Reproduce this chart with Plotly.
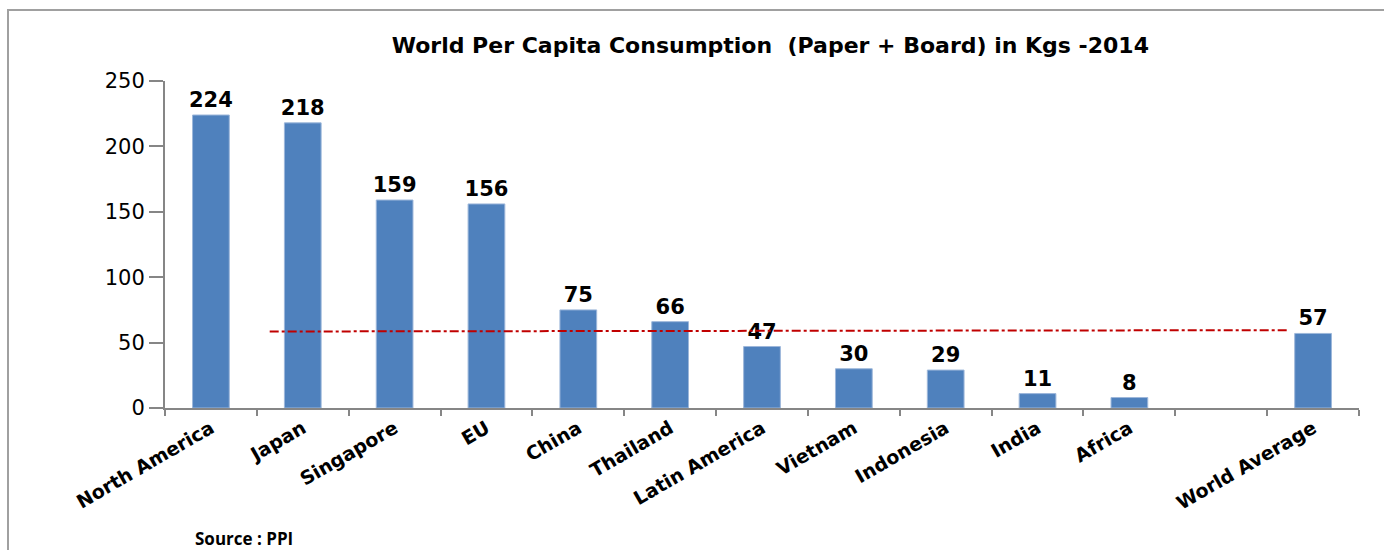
import plotly.graph_objects as go

categories = ["North America", "Japan", "Singapore", "EU", "China", "Thailand",
              "Latin America", "Vietnam", "Indonesia", "India", "Africa", " ", "World Average"]
values = [224, 218, 159, 156, 75, 66, 47, 30, 29, 11, 8, None, 57]
labels = ["224", "218", "159", "156", "75", "66", "47", "30", "29", "11", "8", "", "57"]

# reference (dash-dot) line: category index positions and values
ref_x = [0.64, 11.72]
ref_y = [58.5, 59.5]

y_ticks = [0, 50, 100, 150, 200, 250]

fig = go.Figure()
fig.add_trace(go.Bar(
    x=categories, y=values, text=labels, textposition="outside", constraintext="none",
    textfont=dict(family="DejaVu Sans", size=21, color="black", weight="bold"),
    marker=dict(color="#4F81BD", line=dict(color="#9DB7DA", width=1)),
    cliponaxis=False, showlegend=False,
))
fig.add_trace(go.Scatter(
    x=ref_x, y=ref_y, xaxis="x2", yaxis="y", mode="lines",
    line=dict(color="#C00000", width=2, dash="dashdot"), showlegend=False,
    hoverinfo="skip",
))

axis_col = "#868686"
fig.update_layout(
    width=1384, height=550,
    margin=dict(l=165, r=25, t=81, b=142, autoexpand=False),
    plot_bgcolor="white", paper_bgcolor="white",
    bargap=0.6,
    title=dict(text="World Per Capita Consumption  (Paper + Board) in Kgs -2014",
               font=dict(family="DejaVu Sans", size=22, color="black", weight="bold"),
               x=0.507, xref="paper", y=1 - 45 / 550, yref="container",
               xanchor="center", yanchor="middle"),
    xaxis=dict(type="category", categoryorder="array", categoryarray=categories,
               showline=True, linecolor=axis_col, linewidth=2,
               ticks="outside", tickson="boundaries", ticklen=6, tickcolor=axis_col, tickwidth=2,
               tickangle=-30, automargin=False,
               tickfont=dict(family="DejaVu Sans", size=19, color="black", weight="bold"),
               showgrid=False, zeroline=False),
    xaxis2=dict(overlaying="x", range=[-0.5, 12.5], visible=False),
    yaxis=dict(range=[0, 250], tickvals=y_ticks, showline=True, linecolor=axis_col, linewidth=2,
               ticks="outside", ticklen=14, tickcolor=axis_col, tickwidth=2,
               tickfont=dict(family="DejaVu Sans", size=21, color="black"),
               showgrid=False, zeroline=False, automargin=False),
    shapes=[dict(type="rect", xref="paper", yref="paper",
                 x0=(8 - 165) / 1194, x1=1.2, y0=-1, y1=(408 - 10) / 327,
                 line=dict(color="#A0A0A0", width=2), fillcolor="rgba(0,0,0,0)", layer="below")],
    annotations=[dict(text="Source : PPI", xref="paper", yref="paper",
                      x=(193 - 165) / 1194, y=(408 - 538) / 327, xanchor="left", yanchor="middle",
                      showarrow=False,
                      font=dict(family="Open Sans", size=17, color="black", weight="bold"))],
)

fig.write_html("out.html", config={"displayModeBar": False},
               post_script="document.body.style.margin='0';document.body.style.overflow='hidden';")
